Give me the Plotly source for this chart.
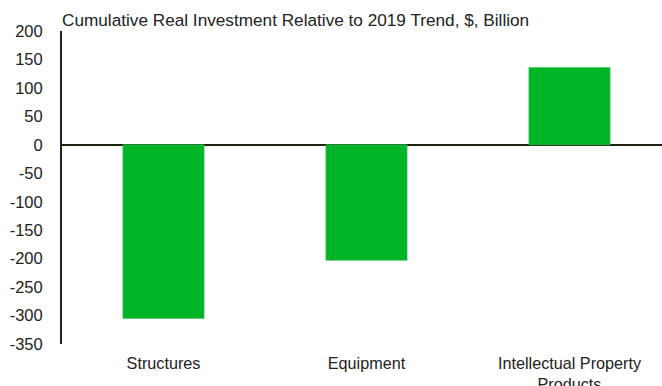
import plotly.graph_objects as go

categories = ["Structures", "Equipment", "Intellectual Property<br>Products"]
values = [-305, -203, 136]
tick_vals = [200, 150, 100, 50, 0, -50, -100, -150, -200, -250, -300, -350]

bar_color = "#00B428"
axis_color = "#1F2410"
text_color = "#222222"
font_family = "Liberation Sans, Arial, sans-serif"

fig = go.Figure(
    go.Bar(
        x=list(range(len(categories))),
        y=values,
        width=0.4,
        marker=dict(color=bar_color, line=dict(color="#3CC35A", width=0.6)),
        hoverinfo="skip",
    )
)

fig.update_layout(
    width=662,
    height=386,
    margin=dict(l=62, r=0, t=31, b=42, autoexpand=False),
    paper_bgcolor="white",
    plot_bgcolor="white",
    showlegend=False,
    font=dict(family=font_family, size=16, color=text_color),
    title=dict(
        text="Cumulative Real Investment Relative to 2019 Trend, $, Billion",
        x=62 / 662,
        xanchor="left",
        xref="container",
        y=1 - 20 / 386,
        yanchor="middle",
        yref="container",
        automargin=False,
        font=dict(family=font_family, size=17.2, color=text_color),
    ),
)

fig.update_xaxes(
    range=[-0.5, -0.5 + 600 / 203],
    tickvals=list(range(len(categories))),
    ticktext=categories,
    showgrid=False,
    showline=False,
    zeroline=False,
    ticks="",
    automargin=False,
    ticklabelstandoff=8,
    tickfont=dict(size=16.2),
)

fig.update_yaxes(
    range=[-350, 200],
    tickvals=tick_vals,
    ticktext=[str(v) for v in tick_vals],
    showgrid=False,
    showline=True,
    linecolor=axis_color,
    linewidth=2,
    zeroline=True,
    zerolinecolor=axis_color,
    zerolinewidth=2,
    ticks="",
    automargin=False,
    ticklabelstandoff=14,
    tickfont=dict(size=16.5),
)

fig.write_html("out.html")
